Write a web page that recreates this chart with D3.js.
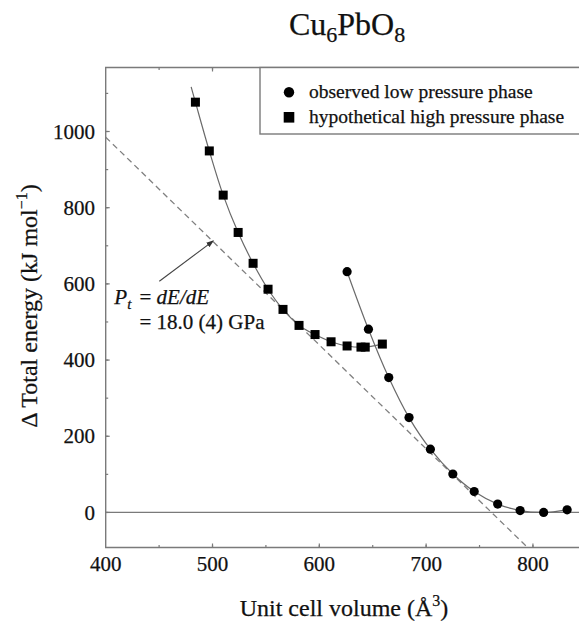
<!DOCTYPE html>
<html>
<head>
<meta charset="utf-8">
<script src="https://cdn.jsdelivr.net/npm/d3@7/dist/d3.min.js"></script>
<style>
  body { margin: 0; background: #fff; }
  svg text { font-family: "Liberation Serif", "Times New Roman", serif; fill: #111; stroke: #111; stroke-width: 0.25px; }
</style>
</head>
<body>
<svg id="chart" width="579" height="622"></svg>
<script>
// observed low pressure phase (circles)
var lowVolume = [626, 646, 665, 684, 704, 725, 745, 767, 788, 810, 832];
var lowEnergy = [632, 481, 354, 249, 166, 101, 55, 22, 5, 0, 7];

// hypothetical high pressure phase (squares)
var highVolume = [484, 497, 510, 524, 538, 552, 566, 581, 596, 611, 626, 639, 643, 659];
var highEnergy = [1077, 949, 833, 735, 654, 586, 533, 491, 467, 448, 437, 434, 434, 442];

// fitted curve of the high pressure phase
var highFitVolume = [480, 484, 497, 510, 524, 538, 552, 566, 581, 596, 611, 626, 641, 659];
var highFitEnergy = [1117, 1077, 949, 833, 735, 654, 586, 533, 491, 467, 448, 437, 434, 442];

// common tangent (dashed)
var tangentVolume = [400, 795];
var tangentEnergy = [985, -92];

var volumeTicks = [400, 500, 600, 700, 800];
var energyTicks = [0, 200, 400, 600, 800, 1000];

var legendLabels = ['observed low pressure phase', 'hypothetical high pressure phase'];

/** Layout */
var margin = {left: 105.7, top: 67.5, bottom: 547.5, right: 581};

var svg = d3.select('#chart');

var x = d3.scaleLinear().domain([400, 845]).range([margin.left, margin.right]);
var y = d3.scaleLinear().domain([-92, 1168]).range([margin.bottom, margin.top]);

var axisColor = '#7a7a7a';

svg.append('defs').append('clipPath').attr('id', 'plotClip')
    .append('rect')
    .attr('x', margin.left).attr('y', margin.top)
    .attr('width', margin.right - margin.left)
    .attr('height', margin.bottom - margin.top);

var plot = svg.append('g').attr('clip-path', 'url(#plotClip)');

// zero line
plot.append('line')
    .attr('x1', x(400)).attr('x2', x(845))
    .attr('y1', y(0)).attr('y2', y(0))
    .style('stroke', axisColor).style('stroke-width', 1.3);

// tangent
plot.append('line')
    .attr('x1', x(tangentVolume[0])).attr('y1', y(tangentEnergy[0]))
    .attr('x2', x(tangentVolume[1])).attr('y2', y(tangentEnergy[1]))
    .style('stroke', '#808080').style('stroke-width', 1.3)
    .style('stroke-dasharray', '6,4');

var line = d3.line()
    .x(function (d) { return x(d[0]); })
    .y(function (d) { return y(d[1]); })
    .curve(d3.curveCatmullRom.alpha(0.5));

plot.append('path')
    .datum(d3.zip(highFitVolume, highFitEnergy))
    .attr('d', line)
    .style('fill', 'none').style('stroke', '#6a6a6a').style('stroke-width', 1.2);

plot.append('path')
    .datum(d3.zip(lowVolume, lowEnergy))
    .attr('d', line)
    .style('fill', 'none').style('stroke', '#6a6a6a').style('stroke-width', 1.2);

// markers
plot.selectAll('rect.high').data(d3.zip(highVolume, highEnergy))
    .enter().append('rect')
    .attr('class', 'high')
    .attr('x', function (d) { return x(d[0]) - 4.5; })
    .attr('y', function (d) { return y(d[1]) - 4.5; })
    .attr('width', 9).attr('height', 9)
    .style('fill', '#000');

plot.selectAll('circle.low').data(d3.zip(lowVolume, lowEnergy))
    .enter().append('circle')
    .attr('class', 'low')
    .attr('cx', function (d) { return x(d[0]); })
    .attr('cy', function (d) { return y(d[1]); })
    .attr('r', 4.6)
    .style('fill', '#000');

// frame and axes
var axes = svg.append('g');

axes.append('path')
    .attr('d', 'M' + margin.right + ',' + margin.top + 'H' + margin.left + 'V' + margin.bottom + 'H' + margin.right)
    .style('fill', 'none').style('stroke', axisColor).style('stroke-width', 1.4);

function tickMarks(values, len, horizontal) {
    values.forEach(function (v) {
        if (horizontal) {
            axes.append('line').attr('x1', x(v)).attr('x2', x(v))
                .attr('y1', margin.bottom).attr('y2', margin.bottom - len)
                .style('stroke', axisColor).style('stroke-width', 1.2);
            axes.append('line').attr('x1', x(v)).attr('x2', x(v))
                .attr('y1', margin.top).attr('y2', margin.top + len)
                .style('stroke', axisColor).style('stroke-width', 1.2);
        } else {
            axes.append('line').attr('x1', margin.left).attr('x2', margin.left + len)
                .attr('y1', y(v)).attr('y2', y(v))
                .style('stroke', axisColor).style('stroke-width', 1.2);
        }
    });
}

tickMarks(x.ticks(9).filter(function (v) { return v > 400; }), 2.5, true);
tickMarks(volumeTicks.filter(function (v) { return v > 400; }), 4, true);
tickMarks(y.ticks(12).filter(function (v) { return v >= -90 && v <= 1160; }), 2.5, false);
tickMarks(energyTicks, 4, false);

axes.selectAll('text.xtick').data(volumeTicks)
    .enter().append('text')
    .attr('x', function (d) { return x(d); })
    .attr('y', 571)
    .attr('text-anchor', 'middle')
    .style('font-size', '21px')
    .text(function (d) { return d; });

axes.selectAll('text.ytick').data(energyTicks)
    .enter().append('text')
    .attr('x', 95)
    .attr('y', function (d) { return y(d); })
    .attr('dy', '0.34em')
    .attr('text-anchor', 'end')
    .style('font-size', '21px')
    .text(function (d) { return d; });

// axis titles
var xTitle = svg.append('text')
    .attr('x', 344).attr('y', 616)
    .attr('text-anchor', 'middle')
    .style('font-size', '24px');
xTitle.append('tspan').text('Unit cell volume (Å');
xTitle.append('tspan').attr('dy', -10).style('font-size', '16px').text('3');
xTitle.append('tspan').attr('dy', 10).text(')');

var yTitle = svg.append('text')
    .attr('transform', 'translate(37,306) rotate(-90)')
    .attr('text-anchor', 'middle')
    .style('font-size', '24px');
yTitle.append('tspan').text('Δ Total energy (kJ mol');
yTitle.append('tspan').attr('dy', -10).style('font-size', '16px').text('−1');
yTitle.append('tspan').attr('dy', 10).text(')');

// title
var title = svg.append('text')
    .attr('x', 347).attr('y', 35)
    .attr('text-anchor', 'middle')
    .style('font-size', '32px');
title.append('tspan').text('Cu');
title.append('tspan').attr('dy', 7).style('font-size', '22px').text('6');
title.append('tspan').attr('dy', -7).text('PbO');
title.append('tspan').attr('dy', 7).style('font-size', '22px').text('8');

// legend
var legend = svg.append('g');
legend.append('rect')
    .attr('x', 260).attr('y', margin.top)
    .attr('width', 340).attr('height', 66.5)
    .style('fill', '#fff').style('stroke', axisColor).style('stroke-width', 1.4);
legend.append('circle').attr('cx', 289).attr('cy', 92.3).attr('r', 5.2).style('fill', '#000');
legend.append('rect').attr('x', 283.7).attr('y', 112).attr('width', 10.6).attr('height', 10.6).style('fill', '#000');
legend.selectAll('text.leg').data(legendLabels)
    .enter().append('text')
    .attr('x', 309)
    .attr('y', function (d, i) { return 97.5 + i * 25; })
    .style('font-size', '19.5px')
    .text(function (d) { return d; });

// annotation
svg.append('defs').append('marker')
    .attr('id', 'arrowHead')
    .attr('viewBox', '0 0 10 10')
    .attr('refX', 9).attr('refY', 5)
    .attr('markerWidth', 7).attr('markerHeight', 7)
    .attr('orient', 'auto')
    .append('path').attr('d', 'M0,1.5L10,5L0,8.5Z').style('fill', '#333');

svg.append('line')
    .attr('x1', x(450.2)).attr('y1', y(607))
    .attr('x2', x(500.8)).attr('y2', y(713))
    .style('stroke', '#444').style('stroke-width', 1.1)
    .attr('marker-end', 'url(#arrowHead)');

var ann1 = svg.append('text').attr('x', 114.3).attr('y', 303.5).style('font-size', '21px');
ann1.append('tspan').style('font-style', 'italic').text('P');
ann1.append('tspan').attr('dy', 5).style('font-style', 'italic').style('font-size', '15px').text('t');
ann1.append('tspan').attr('dy', -5).attr('x', 139.5).text('= ');
ann1.append('tspan').style('font-style', 'italic').text('dE/dE');

svg.append('text').attr('x', 139.5).attr('y', 328.5).style('font-size', '21px')
    .text('= 18.0 (4) GPa');
</script>
</body>
</html>
